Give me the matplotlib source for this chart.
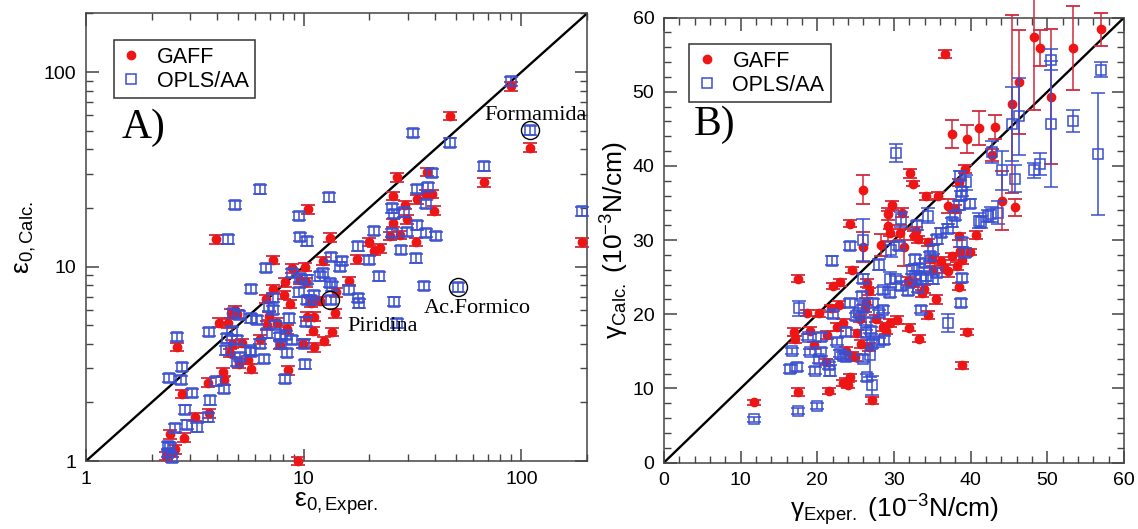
import numpy as np
import matplotlib
matplotlib.use("Agg")
import matplotlib.pyplot as plt
from matplotlib.lines import Line2D
from matplotlib.ticker import LogLocator, FixedLocator, MultipleLocator, FuncFormatter

plt.rcParams['font.family'] = ['Liberation Sans', 'DejaVu Sans']
plt.rcParams['mathtext.fontset'] = 'custom'
plt.rcParams['mathtext.rm'] = 'Liberation Sans'
plt.rcParams['mathtext.it'] = 'Liberation Sans:italic'

# ---- A) constante dielectrica (escala log) ----
eps_exp_gaff = [89.1, 47.1, 110, 67.5, 26.7, 25.8, 29.1, 33.0, 37.0, 36.6, 38.8, 39.5, 29.7, 25.8,
                25.0, 27.8, 32.7, 10.5, 3.95, 13.2, 19.9, 21.1, 22.3, 17.6, 12.2, 10.1, 7.23, 8.85,
                9.62, 10.2, 16.1, 8.2, 7.26, 8.11, 6.70, 8.65, 10.8, 11.9, 13.9, 14.1, 4.81, 4.61,
                4.93, 6.96, 10.3, 11.1, 6.77, 4.49, 4.08, 7.51, 8.42, 11.0, 13.5, 6.32, 5.22, 7.80,
                9.92, 11.2, 12.4, 4.57, 4.66, 2.63, 5.53, 5.03, 5.75, 8.49, 4.24, 4.32, 3.64, 2.76,
                3.18, 3.66, 2.42, 2.83, 2.48, 2.34, 2.56, 9.44, 190]
eps_calc_gaff = [84.3, 59.4, 40.9, 27.1, 28.8, 23.1, 20.8, 22.2, 30.6, 23.6, 23.6, 19.4, 17.5, 16.8,
                 14.4, 14.5, 13.4, 19.7, 13.8, 14.1, 13.4, 12.0, 12.4, 10.9, 10.7, 9.96, 10.8, 9.77,
                 8.57, 8.3, 8.46, 8.3, 7.66, 7.16, 6.80, 6.41, 6.53, 6.67, 5.75, 7.36, 5.99, 5.75,
                 5.71, 5.57, 5.53, 5.53, 4.99, 5.11, 5.15, 5.15, 4.75, 4.66, 4.62, 4.22, 4.05, 3.97,
                 3.99, 3.84, 4.14, 3.60, 3.99, 3.87, 3.32, 3.17, 2.99, 2.93, 2.86, 2.60, 2.53, 2.22,
                 1.69, 1.76, 1.37, 1.32, 1.10, 1.06, 1.15, 1.0, 13.3]

eps_exp_opls = [89.1, 110, 67.5, 31.8, 47.1, 6.28, 4.81, 13.1, 9.55, 9.62, 10.4, 4.49, 38.8, 37.3,
                33.3, 36.6, 25.3, 26.0, 28.9, 25.5, 29.7, 33.0, 36.6, 40.3, 21.1, 17.7, 28.0, 32.9,
                19.9, 15.0, 13.4, 14.7, 22.1, 6.70, 8.85, 9.62, 10.4, 12.3, 11.9, 13.2, 13.5, 16.1,
                35.5, 51.3, 5.70, 9.55, 11.2, 10.8, 13.3, 17.7, 17.9, 26.0, 10.3, 7.23, 6.96, 7.23,
                5.03, 4.75, 5.70, 6.09, 8.58, 10.2, 7.37, 6.77, 7.80, 8.26, 8.85, 10.0, 4.66, 4.45,
                4.93, 4.40, 5.64, 6.32, 7.89, 5.09, 5.75, 4.93, 6.57, 8.42, 10.1, 3.68, 2.63, 2.76,
                2.41, 2.73, 3.97, 4.32, 3.06, 3.71, 2.84, 3.64, 2.92, 3.22, 2.56, 2.37, 2.43, 2.39,
                2.48, 8.2, 26.8, 190]
eps_calc_opls = [89.5, 50.2, 32.7, 48.7, 43.4, 24.9, 20.7, 22.7, 18.2, 14.2, 13.5, 13.8, 30.3, 25.6,
                 25.1, 21.0, 19.9, 18.6, 19.0, 14.9, 15.1, 16.3, 14.9, 14.4, 15.2, 12.7, 12.2, 11.0,
                 10.8, 10.7, 11.2, 10.0, 8.91, 9.84, 9.27, 8.74, 8.57, 9.27, 8.91, 8.23, 7.91, 7.60,
                 7.97, 7.82, 7.66, 7.36, 7.10, 6.75, 6.75, 6.88, 6.48, 6.61, 6.75, 6.88, 6.23, 5.99,
                 5.64, 5.75, 5.42, 5.31, 5.42, 5.21, 5.01, 4.53, 4.35, 4.44, 4.19, 4.02, 4.68, 4.27,
                 4.19, 3.71, 3.71, 4.02, 4.02, 3.43, 3.64, 3.23, 3.36, 3.60, 3.14, 4.62, 4.35, 3.05,
                 2.67, 2.62, 2.57, 2.35, 2.24, 2.05, 1.84, 1.68, 1.54, 1.49, 1.48, 1.20, 1.18, 1.10,
                 1.04, 2.65, 5.11, 19.2]
eps_rel_err = 0.05

# moleculas destacadas
special_names = ['Formamida', 'Piridina', 'Ac.Formico']
special_exp = [110, 13.2, 51.3]
special_calc = [50.2, 6.75, 7.82]
special_text_x = [67.5, 15.9, 35.5]
special_text_y = [60, 4.9, 6.1]

# ---- B) tension superficial ----
gam_exp_gaff = [36.6, 57.0, 53.3, 48.3, 49.1, 50.5, 45.4, 46.3, 45.8, 44.1, 43.2, 42.8, 41.1, 39.5,
                37.6, 39.3, 40.7, 39.9, 38.5, 38.6, 38.9, 38.5, 39.5, 38.9, 35.5, 34.4, 33.3, 31.9,
                30.4, 29.5, 29.0, 28.5, 34.2, 35.7, 32.1, 32.5, 37.0, 37.0, 36.5, 36.1, 35.1, 34.9,
                34.4, 33.1, 32.9, 32.6, 32.5, 31.8, 33.9, 33.6, 31.0, 30.8, 31.3, 29.7, 29.2, 29.2,
                29.5, 28.3, 26.0, 26.0, 24.2, 24.5, 22.0, 17.5, 20.2, 18.7, 21.8, 17.0, 17.1, 19.0,
                19.6, 21.1, 21.3, 22.6, 23.4, 23.8, 24.2, 23.8, 23.4, 24.0, 21.5, 17.5, 11.8, 27.1,
                26.8, 26.4, 26.2, 25.6, 25.2, 24.5, 24.9, 25.7, 27.6, 26.8, 22.8, 22.9, 38.5, 38.0,
                37.5, 38.2, 26.5]
gam_calc_gaff = [55.1, 58.4, 55.9, 57.4, 55.9, 49.3, 48.3, 51.3, 34.4, 35.3, 45.2, 41.5, 45.1, 43.6,
                 44.3, 39.6, 30.7, 28.4, 30.5, 28.5, 27.3, 23.7, 17.6, 13.1, 22.0, 19.9, 16.7, 18.2,
                 19.2, 18.8, 17.8, 18.3, 35.9, 36.0, 39.0, 37.6, 34.6, 25.8, 26.2, 27.2, 26.0, 27.4,
                 29.7, 30.1, 31.2, 30.6, 24.2, 24.5, 23.4, 22.8, 33.7, 31.0, 29.0, 34.7, 33.5, 31.9,
                 31.0, 29.3, 36.8, 29.1, 32.2, 26.0, 23.8, 24.8, 20.1, 20.2, 20.8, 17.6, 16.6, 17.8,
                 15.8, 13.6, 17.2, 18.3, 18.8, 15.1, 11.5, 10.9, 10.7, 10.4, 9.7, 9.5, 8.1, 8.4,
                 23.1, 21.7, 20.8, 19.4, 17.4, 14.4, 14.2, 16.0, 19.4, 15.6, 21.3, 24.3, 37.8, 34.2,
                 27.8, 26.5, 24.2]
gam_err_gaff = [0.5, 2.2, 5.7, 9.8, 2.4, 9.1, 12.0, 7.0, 1.2, 4.0, 1.6, 0.8, 2.3, 1.9,
                1.9, 0.5, 0.5, 0.4, 0.5, 0.5, 0.5, 0.5, 0.4, 0.5, 0.6, 0.5, 0.5, 0.5,
                0.5, 0.5, 0.5, 0.5, 0.5, 0.5, 0.6, 0.3, 1.0, 0.8, 0.6, 0.5, 0.5, 0.5,
                0.5, 0.5, 0.6, 0.6, 0.5, 0.5, 0.5, 0.5, 0.6, 1.0, 2.5, 0.6, 0.8, 2.0,
                0.5, 1.5, 2.0, 2.0, 0.5, 0.4, 0.4, 0.5, 0.5, 0.4, 0.5, 0.5, 0.5, 0.5,
                0.5, 0.4, 0.5, 0.5, 0.5, 0.5, 0.5, 0.5, 0.4, 0.4, 0.4, 0.5, 0.3, 0.5,
                0.5, 0.5, 0.5, 0.5, 0.5, 0.5, 0.5, 0.5, 0.5, 0.5, 0.5, 0.5, 0.5, 0.5,
                0.5, 0.5, 0.5]

gam_exp_opls = [57.0, 56.6, 53.3, 50.5, 50.5, 49.1, 48.3, 46.3, 45.4, 45.8, 44.1, 42.8, 43.6, 42.6,
                41.1, 39.9, 39.4, 38.9, 38.6, 38.8, 38.5, 38.0, 37.5, 37.0, 38.9, 39.2, 38.9, 38.7,
                37.0, 34.4, 36.1, 35.6, 35.1, 34.7, 34.0, 33.2, 32.7, 32.3, 32.8, 33.5, 34.2, 35.1,
                35.6, 31.8, 30.9, 29.5, 29.5, 30.2, 29.6, 30.6, 30.9, 33.0, 30.2, 28.1, 28.5, 28.1,
                27.1, 26.0, 25.9, 25.8, 25.9, 26.5, 24.2, 21.9, 17.6, 18.8, 20.5, 20.5, 20.2, 19.0,
                16.7, 16.4, 17.4, 19.7, 21.7, 20.0, 17.5, 11.8, 22.0, 22.6, 23.3, 23.8, 24.2, 25.0,
                25.4, 25.9, 26.4, 26.4, 27.0, 27.1, 27.3, 28.0, 28.6, 28.7, 23.8, 22.9, 21.5, 33.5,
                33.1, 42.2, 41.3, 26.9]
gam_calc_opls = [53.0, 41.6, 46.1, 54.3, 45.7, 40.3, 39.4, 46.7, 45.6, 38.3, 39.4, 41.9, 33.7, 33.5,
                 32.6, 34.9, 37.8, 36.5, 38.7, 36.0, 34.7, 33.3, 32.4, 31.5, 29.7, 28.3, 24.9, 21.5,
                 18.8, 33.3, 31.0, 30.1, 28.7, 27.8, 26.9, 26.2, 27.4, 26.0, 25.2, 24.7, 25.1, 24.7,
                 25.6, 23.1, 23.8, 22.8, 24.7, 24.7, 28.7, 29.2, 32.8, 32.0, 41.7, 26.7, 23.2, 16.3,
                 10.4, 30.0, 24.8, 22.5, 14.0, 11.5, 29.2, 27.2, 20.8, 16.9, 16.9, 14.9, 13.9, 14.9,
                 15.1, 12.6, 12.9, 12.4, 12.4, 7.6, 6.95, 5.8, 20.0, 16.3, 14.4, 17.6, 21.5, 19.7,
                 20.1, 20.8, 19.0, 17.4, 17.8, 16.0, 21.5, 20.1, 20.6, 16.5, 14.2, 14.7, 13.1, 20.6,
                 23.5, 33.3, 32.4, 14.5]
gam_err_opls = [1.0, 8.2, 1.5, 1.4, 8.5, 1.5, 1.0, 5.2, 5.0, 1.8, 2.6, 1.5, 1.6, 1.0,
                1.0, 0.6, 1.0, 0.6, 0.6, 0.6, 0.6, 0.6, 0.6, 0.6, 0.6, 0.6, 0.5, 0.5,
                1.2, 1.0, 0.6, 0.6, 0.6, 0.6, 0.6, 0.6, 0.6, 0.6, 0.6, 0.6, 0.6, 0.6,
                0.6, 0.5, 0.5, 0.5, 1.0, 0.5, 1.0, 0.6, 1.0, 0.6, 1.2, 0.8, 0.5, 0.5,
                1.3, 2.8, 0.6, 0.5, 0.5, 0.5, 0.6, 0.6, 1.0, 0.4, 0.5, 0.5, 0.5, 0.4,
                0.4, 0.5, 0.5, 0.5, 0.8, 0.4, 0.4, 0.4, 0.5, 0.5, 0.5, 0.5, 0.5, 0.5,
                0.5, 0.5, 0.5, 0.5, 0.5, 0.5, 0.5, 0.5, 0.5, 0.5, 0.5, 0.5, 0.5, 0.5,
                0.5, 0.8, 0.8, 3.0]

RED = '#ee1515'
RED_BAR = '#d02a3c'
BLUE = '#3a4fd0'

gaff_style = dict(fmt='o', color=RED, ms=6, ecolor=RED_BAR, elinewidth=1.1,
                  capsize=5, capthick=1.3, clip_on=False, zorder=3)
opls_style = dict(fmt='s', mfc='none', mec=BLUE, ms=6.8, mew=1.1, ecolor=BLUE,
                  elinewidth=1.1, capsize=5, capthick=1.3, clip_on=False, zorder=4)


def style_axes(ax):
    for sp in ax.spines.values():
        sp.set_linewidth(1.1)
        sp.set_color('#444444')
    ax.tick_params(which='both', direction='in', top=True, right=True,
                   labelsize=14, color='#444444')
    ax.tick_params(which='major', length=9, width=1.1, pad=7)
    ax.tick_params(which='minor', length=5, width=1.0)


def add_legend(ax):
    handles = [Line2D([], [], ls='none', marker='o', color=RED, ms=6),
               Line2D([], [], ls='none', marker='s', mfc='none', mec=BLUE, ms=7, mew=1.1)]
    leg = ax.legend(handles, ['GAFF', 'OPLS/AA'], loc='upper left',
                    bbox_to_anchor=(0.055, 0.94), borderaxespad=0, fontsize=15.5,
                    frameon=True, fancybox=False, framealpha=1, handlelength=1.0,
                    handletextpad=0.7, borderpad=0.3, labelspacing=0.15)
    leg.get_frame().set_edgecolor('#333333')
    leg.get_frame().set_linewidth(1.1)


fig = plt.figure(figsize=(11.38, 5.29), dpi=100)

# panel A
axA = fig.add_axes([0.0756, 0.1285, 0.4402, 0.846])
axA.set_xscale('log')
axA.set_yscale('log')
axA.set_xlim(1, 200)
axA.set_ylim(1, 200)
axA.plot([1, 200], [1, 200], color='black', lw=1.7, zorder=2)

eg = np.array(eps_calc_gaff)
eo = np.array(eps_calc_opls)
axA.errorbar(eps_exp_gaff, eg, yerr=eps_rel_err * eg, **gaff_style)
axA.errorbar(eps_exp_opls, eo, yerr=eps_rel_err * eo, **opls_style)

axA.plot(special_exp, special_calc, ls='none', marker='o', ms=13, mfc='none',
         mec='black', mew=1.0, zorder=5)
for name, tx, ty in zip(special_names, special_text_x, special_text_y):
    axA.text(tx, ty, name, family='Liberation Serif', fontsize=16,
             ha='left', va='center', zorder=6)
axA.text(1.45, 52, 'A)', family='Liberation Serif', fontsize=30, ha='left', va='center')

axA.xaxis.set_major_locator(FixedLocator([1, 10, 100]))
axA.yaxis.set_major_locator(FixedLocator([1, 10, 100]))
axA.xaxis.set_minor_locator(LogLocator(base=10, subs=np.arange(2, 10)))
axA.yaxis.set_minor_locator(LogLocator(base=10, subs=np.arange(2, 10)))
fmt = FuncFormatter(lambda v, p: f'{v:g}')
axA.xaxis.set_major_formatter(fmt)
axA.yaxis.set_major_formatter(fmt)
axA.xaxis.set_minor_formatter(FuncFormatter(lambda v, p: ''))
axA.yaxis.set_minor_formatter(FuncFormatter(lambda v, p: ''))
style_axes(axA)
axA.set_xlabel('ε$_{\\mathrm{0,Exper.}}$', fontsize=19, labelpad=2)
axA.set_ylabel('ε$_{\\mathrm{0,Calc.}}$', fontsize=19, labelpad=4)
add_legend(axA)

# panel B
axB = fig.add_axes([0.5835, 0.1257, 0.4042, 0.841])
axB.set_xlim(0, 60)
axB.set_ylim(0, 60)
axB.plot([0, 60], [0, 60], color='black', lw=1.7, zorder=2)
axB.errorbar(gam_exp_gaff, gam_calc_gaff, yerr=gam_err_gaff, **gaff_style)
axB.errorbar(gam_exp_opls, gam_calc_opls, yerr=gam_err_opls, **opls_style)
axB.text(3.9, 45.5, 'B)', family='Liberation Serif', fontsize=30, ha='left', va='center')
axB.xaxis.set_major_locator(MultipleLocator(10))
axB.yaxis.set_major_locator(MultipleLocator(10))
axB.xaxis.set_minor_locator(MultipleLocator(2))
axB.yaxis.set_minor_locator(MultipleLocator(2))
style_axes(axB)
axB.set_xlabel('γ$_{\\mathrm{Exper.}}$ (10$^{-3}$N/cm)', fontsize=19, labelpad=2)
axB.set_ylabel('γ$_{\\mathrm{Calc.}}$ (10$^{-3}$N/cm)', fontsize=19, labelpad=1)
add_legend(axB)

fig.savefig('out.png', dpi=100)
